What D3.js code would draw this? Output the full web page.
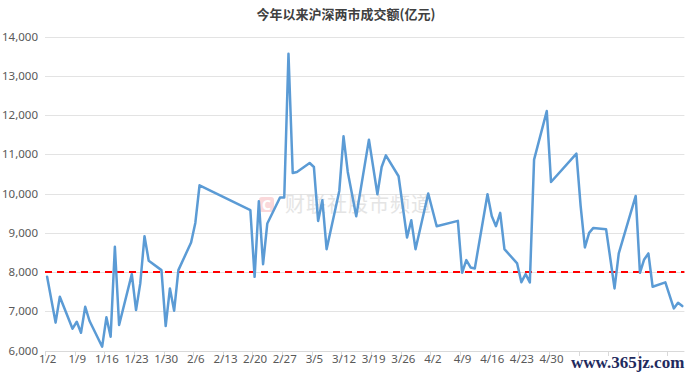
<!DOCTYPE html>
<html><head><meta charset="utf-8">
<script src="https://cdn.jsdelivr.net/npm/d3@7"></script>
<style>
html,body{margin:0;padding:0;background:#fff;}
svg{display:block;}
</style></head>
<body>
<svg id="c" width="692" height="379"></svg>
<script>
const title = "今年以来沪深两市成交额(亿元)";
const dates = ["2024-01-02","2024-01-04","2024-01-05","2024-01-08","2024-01-09","2024-01-10","2024-01-11","2024-01-12",
"2024-01-15","2024-01-16","2024-01-17","2024-01-18","2024-01-19","2024-01-22","2024-01-23","2024-01-24","2024-01-25","2024-01-26",
"2024-01-29","2024-01-30","2024-01-31","2024-02-01","2024-02-02","2024-02-05","2024-02-06","2024-02-07",
"2024-02-19","2024-02-20","2024-02-21","2024-02-22","2024-02-23","2024-02-26","2024-02-27","2024-02-28","2024-02-29","2024-03-01",
"2024-03-04","2024-03-05","2024-03-06","2024-03-07","2024-03-08","2024-03-11","2024-03-12","2024-03-13","2024-03-15",
"2024-03-18","2024-03-20","2024-03-21","2024-03-22","2024-03-25","2024-03-27","2024-03-28","2024-03-29",
"2024-04-01","2024-04-03","2024-04-08","2024-04-09","2024-04-10","2024-04-11","2024-04-12",
"2024-04-15","2024-04-16","2024-04-17","2024-04-18","2024-04-19","2024-04-22","2024-04-23","2024-04-24","2024-04-25","2024-04-26",
"2024-04-29","2024-04-30","2024-05-06","2024-05-07","2024-05-08","2024-05-09","2024-05-10",
"2024-05-13","2024-05-14","2024-05-15","2024-05-16","2024-05-20","2024-05-21","2024-05-22","2024-05-23","2024-05-24",
"2024-05-27","2024-05-29","2024-05-30","2024-05-31"];
const values = [7880,6710,7370,6555,6733,6453,7114,6758,
6097,6845,6351,8641,6649,7946,7030,7709,8913,8284,
8048,6623,7582,7013,8048,8752,9251,10210,
9574,7877,9803,8200,9236,9897,9897,13560,10523,10549,
10777,10676,9302,9829,8582,10065,11457,10549,9422,
11372,9981,10676,10973,10439,8880,9320,8582,
9999,9167,9302,7981,8302,8116,8091,
9981,9429,9167,9506,8582,8218,7740,7946,7735,10864,
12100,10294,11016,9676,8625,8997,9124,
9091,8345,7582,8473,9938,7981,8320,8473,7623,
7735,7073,7216,7132];
// weekly tick marks; labels after 4/30 are hidden under the site watermark in the reference
const xTickDates = ["1/2","1/9","1/16","1/23","1/30","2/6","2/13","2/20","2/27","3/5","3/12","3/19","3/26","4/2","4/9","4/16","4/23","4/30","5/7","5/14","5/21","5/28"];
const xTickLabels = ["1/2","1/9","1/16","1/23","1/30","2/6","2/13","2/20","2/27","3/5","3/12","3/19","3/26","4/2","4/9","4/16","4/23","4/30"];
const yTicks = [6000,7000,8000,9000,10000,11000,12000,13000,14000];
const refValue = 8000;
const watermark1 = "财联社股市频道";
const watermark2 = "www.365jz.com";

const svg = d3.select("#c");
const parse = d3.timeParse("%Y-%m-%d");
const day = 864e5;
const toDate = s=>{const [m,dd]=s.split("/").map(Number); return new Date(2024,m-1,dd);};
const x = d3.scaleTime()
  .domain([new Date(2024,0,1,12), new Date(2024,4,31,12)])
  .range([45, 684.4]);
const y = d3.scaleLinear().domain([6000,14000]).range([350.5, 36.5]);

// gridlines
svg.append("g").selectAll("line").data(yTicks.filter(v=>v>6000)).join("line")
  .attr("x1",45).attr("x2",684.4)
  .attr("y1",d=>Math.round(y(d))+0.5).attr("y2",d=>Math.round(y(d))+0.5)
  .attr("stroke","#e3e3e3").attr("stroke-width",1);

// y axis labels
const yAxis = d3.axisLeft(y).tickValues(yTicks).tickSize(0).tickPadding(0)
  .tickFormat(d3.format(","));
const gy = svg.append("g").attr("transform","translate(38,0)").call(yAxis);
gy.select(".domain").remove();
gy.selectAll("text").attr("fill","#595959").attr("font-size","11.5px")
  .attr("font-family","'Noto Sans','Open Sans',sans-serif");

// x axis
const gx = svg.append("g").attr("transform","translate(0,351)");
gx.append("line").attr("x1",45).attr("x2",684.4).attr("y1",0.5).attr("y2",0.5)
  .attr("stroke","#d9d9d9").attr("stroke-width",1);
gx.selectAll("line.tk").data(xTickDates.map(toDate)).join("line").attr("class","tk")
  .attr("x1",d=>Math.round(x(new Date(+d - day/2)))+0.5)
  .attr("x2",d=>Math.round(x(new Date(+d - day/2)))+0.5)
  .attr("y1",0).attr("y2",5).attr("stroke","#d9d9d9");
const xAxis = d3.axisBottom(x).tickValues(xTickLabels.map(toDate)).tickSize(0).tickPadding(0)
  .tickFormat((d,i)=>xTickLabels[i]);
const gxl = svg.append("g").attr("transform","translate(0,355)").call(xAxis);
gxl.select(".domain").remove();
gxl.selectAll("text").attr("fill","#595959").attr("font-size","11.5px")
  .attr("font-family","'Noto Sans','Open Sans',sans-serif");

// watermark 1
const wm = svg.append("g").attr("opacity",0.8);
wm.append("rect").attr("x",259).attr("y",197).attr("width",15).attr("height",15).attr("rx",3)
  .attr("fill","#f9cfd2");
wm.append("text").attr("x",266.5).attr("y",209.5).attr("text-anchor","middle")
  .attr("font-size","14px").attr("font-weight","bold").attr("fill","#fff")
  .attr("font-family","'Noto Sans',sans-serif").text("C");
wm.append("text").attr("x",285).attr("y",212).attr("font-size","20px")
  .attr("fill","#dedede").attr("font-family","'Noto Sans CJK SC',sans-serif")
  .attr("letter-spacing","1px").text(watermark1);

// reference line
svg.append("line").attr("x1",45).attr("x2",684.4).attr("y1",y(refValue)).attr("y2",y(refValue))
  .attr("stroke","#ff0000").attr("stroke-width",2).attr("stroke-dasharray","7,5");

// data line
const data = dates.map((d,i)=>({d:parse(d), v:values[i]}));
svg.append("path").datum(data)
  .attr("fill","none").attr("stroke","#5b9bd5").attr("stroke-width",2.5)
  .attr("stroke-linejoin","round").attr("stroke-linecap","round")
  .attr("d", d3.line().x(p=>x(p.d)).y(p=>y(p.v)));

// title
svg.append("text").attr("x",346).attr("y",19).attr("text-anchor","middle")
  .attr("font-size","13px").attr("font-weight","bold").attr("fill","#404040")
  .attr("font-family","'Noto Sans CJK SC',sans-serif").text(title);

// watermark 2
svg.append("text").attr("x",571).attr("y",368)
  .attr("font-size","17px").attr("font-weight","bold").attr("fill","#1f2b5e")
  .attr("font-family","'Liberation Serif','DejaVu Serif',serif").text(watermark2);
</script>
</body></html>
